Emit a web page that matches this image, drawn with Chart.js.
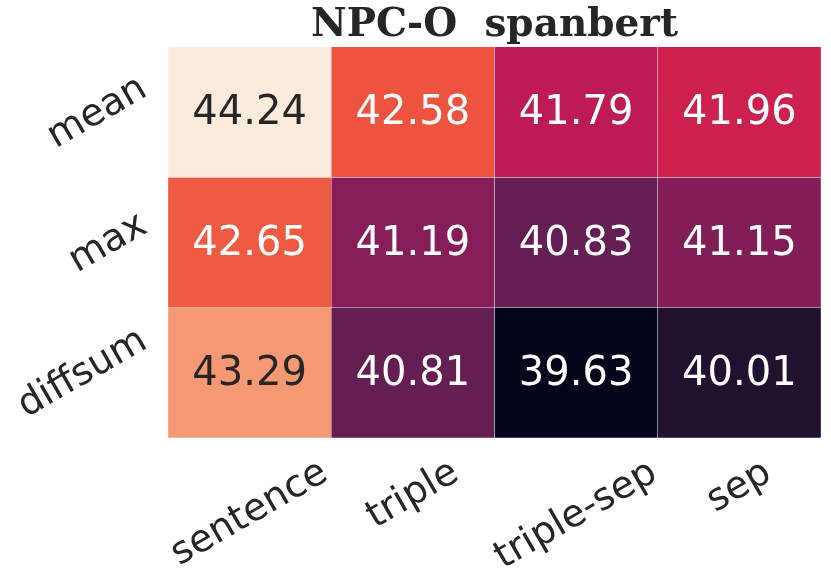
<!DOCTYPE html>
<html>
<head>
<meta charset="utf-8">
<script src="https://cdn.jsdelivr.net/npm/chart.js@4"></script>
<style>
  body { margin: 0; background: #fff; }
  #wrap { width: 831px; height: 586px; position: relative; }
</style>
</head>
<body>
<div id="wrap"><canvas id="heat"></canvas></div>
<script>
// heatmap data
const rowLabels = ["mean", "max", "diffsum"];
const colLabels = ["sentence", "triple", "triple-sep", "sep"];
const meanRow = [44.24, 42.58, 41.79, 41.96];
const maxRow = [42.65, 41.19, 40.83, 41.15];
const diffsumRow = [43.29, 40.81, 39.63, 40.01];
const values = [meanRow, maxRow, diffsumRow];

const TEXT_DARK = "#262626";

// rocket colormap stops
const rocket = [
    [0.0, [3, 5, 26]],
    [0.143, [53, 25, 62]],
    [0.286, [112, 31, 87]],
    [0.429, [173, 23, 89]],
    [0.5, [203, 30, 80]],
    [0.571, [225, 51, 66]],
    [0.64, [238, 83, 64]],
    [0.714, [243, 118, 81]],
    [0.857, [246, 180, 143]],
    [1.0, [250, 235, 221]],
];

const allVals = values.flat();
const vmin = Math.min(...allVals);
const vmax = Math.max(...allVals);

function rocketRGB(v) {
    const t = Math.max(0, Math.min(1, (v - vmin) / (vmax - vmin)));
    for (let i = 1; i < rocket.length; i++) {
        if (t <= rocket[i][0]) {
            const [t0, c0] = rocket[i - 1];
            const [t1, c1] = rocket[i];
            const f = (t - t0) / (t1 - t0);
            return c0.map((c, k) => Math.round(c + (c1[k] - c) * f));
        }
    }
    return rocket[rocket.length - 1][1];
}

function luminance(rgb) {
    const lin = rgb.map((c) => {
        c = c / 255;
        return c <= 0.03928 ? c / 12.92 : Math.pow((c + 0.055) / 1.055, 2.4);
    });
    return 0.2126 * lin[0] + 0.7152 * lin[1] + 0.0722 * lin[2];
}

const datasets = values.map((row, r) => ({
    label: rowLabels[r],
    data: row.map(() => [r, r + 1]),
    backgroundColor: row.map((v) => `rgb(${rocketRGB(v).join(",")})`),
    borderColor: "rgba(255,255,255,0.6)",
    borderWidth: 0.5,
    borderSkipped: false,
    barPercentage: 1,
    categoryPercentage: 1,
    grouped: false,
}));

// cell values + rotated tick labels
const labelPlugin = {
    id: "heatLabels",
    afterDatasetsDraw(chart) {
        const ctx = chart.ctx;
        ctx.save();
        ctx.font = "40px 'DejaVu Sans'";
        ctx.textAlign = "center";
        ctx.textBaseline = "middle";
        values.forEach((row, r) => {
            const meta = chart.getDatasetMeta(r);
            row.forEach((v, c) => {
                const bar = meta.data[c];
                const cy = (bar.y + bar.base) / 2 + 2;
                ctx.fillStyle = luminance(rocketRGB(v)) > 0.408 ? TEXT_DARK : "#ffffff";
                ctx.fillText(v.toFixed(2), bar.x, cy);
            });
        });
        ctx.restore();
    },
    afterDraw(chart) {
        const ctx = chart.ctx;
        const xs = chart.scales.x;
        const ys = chart.scales.y;
        const area = chart.chartArea;
        const fs = 38;
        const h = fs * 1.05;
        const ang = (30 * Math.PI) / 180;
        ctx.save();
        ctx.font = fs + "px 'DejaVu Sans'";
        ctx.fillStyle = TEXT_DARK;
        ctx.textAlign = "center";
        ctx.textBaseline = "middle";

        // y labels: right aligned, centred on row
        rowLabels.forEach((lab, r) => {
            const L = ctx.measureText(lab).width;
            const bw = L * Math.cos(ang) + h * Math.sin(ang);
            const cx = area.left - 14 - bw / 2;
            const cy = ys.getPixelForValue(r + 0.5) + 1;
            ctx.save();
            ctx.translate(cx, cy);
            ctx.rotate(-ang);
            ctx.fillText(lab, 0, 0);
            ctx.restore();
        });

        // x labels: centred on column, hanging from top
        colLabels.forEach((lab, c) => {
            const L = ctx.measureText(lab).width;
            const bh = L * Math.sin(ang) + h * Math.cos(ang);
            const cx = xs.getPixelForValue(c);
            const cy = area.bottom + 15 + bh / 2;
            ctx.save();
            ctx.translate(cx, cy);
            ctx.rotate(-ang);
            ctx.fillText(lab, 0, 0);
            ctx.restore();
        });
        ctx.restore();
    },
};

new Chart(document.getElementById("heat"), {
    type: "bar",
    data: { labels: colLabels, datasets },
    options: {
        responsive: true,
        maintainAspectRatio: false,
        animation: false,
        layout: { padding: { left: 168, right: 10, top: 0, bottom: 148 } },
        scales: {
            x: { display: false, offset: true },
            y: { display: false, min: 0, max: 3, reverse: true },
        },
        plugins: {
            legend: { display: false },
            tooltip: { enabled: false },
            title: {
                display: true,
                fullSize: false,
                text: "NPC-O  spanbert",
                color: TEXT_DARK,
                font: { family: "'DejaVu Serif'", size: 39, weight: "bold", lineHeight: 1.1 },
                padding: { top: 4, bottom: 0 },
            },
        },
    },
    plugins: [labelPlugin],
});
</script>
</body>
</html>
